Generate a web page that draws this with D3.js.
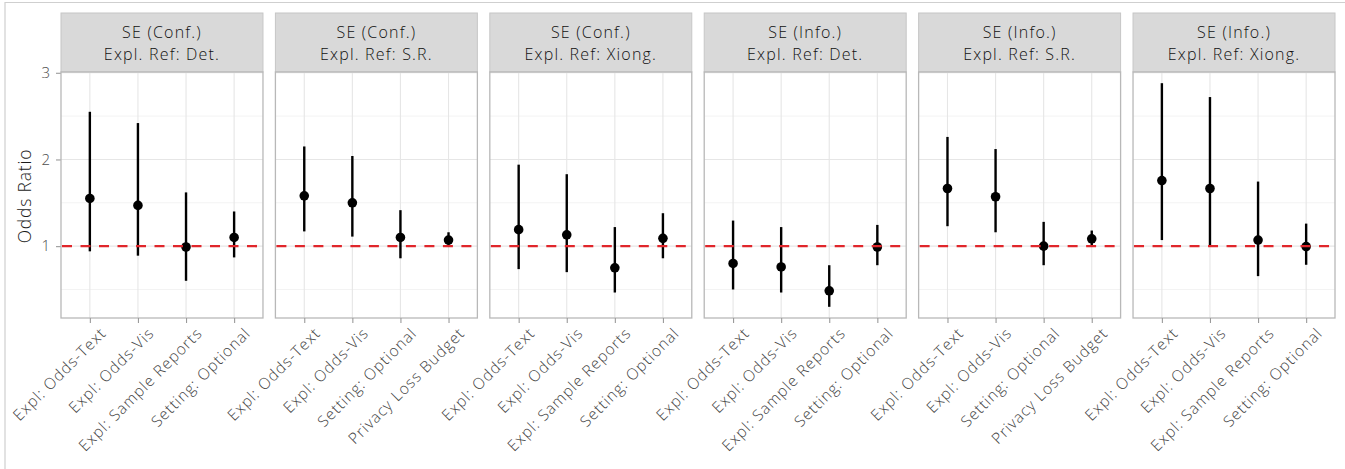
<!DOCTYPE html>
<html>
<head>
<meta charset="utf-8">
<script src="https://cdn.jsdelivr.net/npm/d3@7"></script>
<style>
  body { margin: 0; background: #fff; }
  text { font-family: "Open Sans", Lato, sans-serif; font-weight: 300; }
</style>
</head>
<body>
<div id="my_dataviz"></div>
<script>
// facet titles (two lines each)
var panelTop = ["SE (Conf.)", "SE (Conf.)", "SE (Conf.)", "SE (Info.)", "SE (Info.)", "SE (Info.)"];
var panelBottom = ["Expl. Ref: Det.", "Expl. Ref: S.R.", "Expl. Ref: Xiong.", "Expl. Ref: Det.", "Expl. Ref: S.R.", "Expl. Ref: Xiong."];

// categories in each facet
var catsA = ["Expl: Odds-Text", "Expl: Odds-Vis", "Expl: Sample Reports", "Setting: Optional"];
var catsB = ["Expl: Odds-Text", "Expl: Odds-Vis", "Setting: Optional", "Privacy Loss Budget"];
var panelCats = [catsA, catsB, catsA, catsA, catsB, catsA];

// odds ratio estimates and 95% intervals, one row per facet
var estimate = [
  [1.55, 1.47, 0.99, 1.10],
  [1.58, 1.50, 1.10, 1.07],
  [1.19, 1.13, 0.75, 1.09],
  [0.80, 0.76, 0.485, 0.99],
  [1.665, 1.57, 1.00, 1.085],
  [1.757, 1.665, 1.07, 0.995]
];
var lower = [
  [0.94, 0.89, 0.60, 0.87],
  [1.17, 1.11, 0.86, 0.99],
  [0.735, 0.70, 0.465, 0.86],
  [0.50, 0.465, 0.30, 0.78],
  [1.23, 1.16, 0.78, 1.00],
  [1.07, 1.007, 0.654, 0.785]
];
var upper = [
  [2.55, 2.42, 1.62, 1.40],
  [2.15, 2.04, 1.415, 1.16],
  [1.94, 1.83, 1.22, 1.38],
  [1.295, 1.22, 0.78, 1.245],
  [2.26, 2.12, 1.28, 1.18],
  [2.88, 2.72, 1.745, 1.26]
];

var yTicks = [1, 2, 3];
var yMinor = [0.5, 1.5, 2.5];
var refLine = 1;

var W = 1345, H = 469;
var stripTop = 13, stripH = 59, panelBot = 318;

var svg = d3.select("#my_dataviz")
  .append("svg")
    .attr("width", W)
    .attr("height", H);

// light frame round the picture
svg.append("path")
  .attr("d", "M5," + H + "V2.5H" + W)
  .attr("fill", "none")
  .attr("stroke", "#cfcfcf")
  .attr("stroke-width", 1.2);

var facet = d3.scaleBand()
  .domain(d3.range(6))
  .range([61, 1335])
  .paddingInner(0.058)
  .paddingOuter(0);

var y = d3.scaleLinear()
  .domain([0.171, 3.009])
  .range([panelBot, stripTop + stripH]);

var pw = facet.bandwidth();
var ph = panelBot - (stripTop + stripH);

// y axis
var yAxis = svg.append("g")
  .attr("transform", "translate(61,0)")
  .call(d3.axisLeft(y).tickValues(yTicks).tickSize(5).tickPadding(6).tickFormat(d3.format("d")));
yAxis.select(".domain").remove();
yAxis.selectAll("line").attr("stroke", "#9a9a9a").attr("stroke-width", 1.1);
yAxis.selectAll("text")
  .attr("fill", "#4d4d4d")
  .style("font-size", "15px");

svg.append("text")
  .attr("transform", "translate(31," + ((stripTop + stripH + panelBot) / 2 + 1) + ") rotate(-90)")
  .attr("text-anchor", "middle")
  .attr("fill", "#1a1a1a")
  .style("font-size", "17.5px")
  .style("letter-spacing", "0.8px")
  .text("Odds Ratio");

d3.range(6).forEach(function(i) {
  var x0 = facet(i);
  var cats = panelCats[i];
  var x = d3.scalePoint().domain(cats).range([0, pw]).padding(0.6);

  var g = svg.append("g").attr("transform", "translate(" + x0 + ",0)");

  // strip with a two-line title
  g.append("rect")
    .attr("x", 0).attr("y", stripTop)
    .attr("width", pw).attr("height", stripH)
    .attr("fill", "#d9d9d9")
    .attr("stroke", "#c6c6c6")
    .attr("stroke-width", 1);
  g.append("text")
    .attr("x", pw / 2).attr("y", stripTop + 25)
    .attr("text-anchor", "middle")
    .attr("fill", "#111")
    .style("font-size", "16px")
    .style("letter-spacing", "1.2px")
    .text(panelTop[i]);
  g.append("text")
    .attr("x", pw / 2).attr("y", stripTop + 47)
    .attr("text-anchor", "middle")
    .attr("fill", "#111")
    .style("font-size", "16px")
    .style("letter-spacing", "1.2px")
    .text(panelBottom[i]);

  // grid
  g.selectAll(".minor")
    .data(yMinor).enter().append("line")
    .attr("x1", 0).attr("x2", pw)
    .attr("y1", function(d) { return y(d); })
    .attr("y2", function(d) { return y(d); })
    .attr("stroke", "#f3f3f3").attr("stroke-width", 1);
  g.selectAll(".major")
    .data(yTicks).enter().append("line")
    .attr("x1", 0).attr("x2", pw)
    .attr("y1", function(d) { return y(d); })
    .attr("y2", function(d) { return y(d); })
    .attr("stroke", "#e6e6e6").attr("stroke-width", 1.1);
  g.selectAll(".vgrid")
    .data(cats).enter().append("line")
    .attr("x1", function(d) { return x(d); })
    .attr("x2", function(d) { return x(d); })
    .attr("y1", stripTop + stripH).attr("y2", panelBot)
    .attr("stroke", "#e6e6e6").attr("stroke-width", 1.1);

  // error bars and points
  var rows = cats.map(function(c, j) {
    return {cat: c, est: estimate[i][j], lo: lower[i][j], hi: upper[i][j]};
  });
  g.selectAll(".bar")
    .data(rows).enter().append("line")
    .attr("x1", function(d) { return x(d.cat); })
    .attr("x2", function(d) { return x(d.cat); })
    .attr("y1", function(d) { return y(d.lo); })
    .attr("y2", function(d) { return y(d.hi); })
    .attr("stroke", "#000").attr("stroke-width", 2.4);
  g.selectAll(".pt")
    .data(rows).enter().append("circle")
    .attr("cx", function(d) { return x(d.cat); })
    .attr("cy", function(d) { return y(d.est); })
    .attr("r", 4.8)
    .attr("fill", "#000");

  // reference line at odds ratio 1
  g.append("line")
    .attr("x1", 1).attr("x2", pw - 1)
    .attr("y1", y(refLine)).attr("y2", y(refLine))
    .attr("stroke", "#e0262b")
    .attr("stroke-width", 2.4)
    .attr("stroke-dasharray", "10,8.5");

  // panel border
  g.append("rect")
    .attr("x", 0).attr("y", stripTop + stripH)
    .attr("width", pw).attr("height", ph)
    .attr("fill", "none")
    .attr("stroke", "#b8b8b8")
    .attr("stroke-width", 1.3);

  // x axis
  var xa = g.append("g")
    .attr("transform", "translate(0," + panelBot + ")")
    .call(d3.axisBottom(x).tickSize(5).tickFormat(""));
  xa.select(".domain").remove();
  xa.selectAll("line").attr("stroke", "#9a9a9a").attr("stroke-width", 1.1);

  g.selectAll(".xlab")
    .data(cats).enter().append("text")
    .attr("transform", function(d) { return "translate(" + (x(d) + 9) + ",326) rotate(-45)"; })
    .attr("text-anchor", "end")
    .attr("dy", "0.75em")
    .attr("fill", "#444")
    .style("font-size", "15.5px")
    .style("letter-spacing", "1px")
    .text(function(d) { return d; });
});
</script>
</body>
</html>
